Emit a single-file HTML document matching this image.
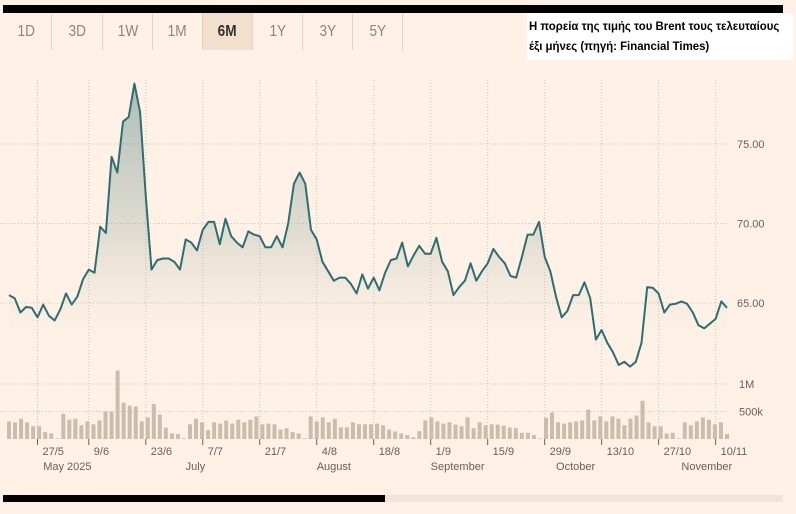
<!DOCTYPE html>
<html><head><meta charset="utf-8">
<style>
html,body{margin:0;padding:0;background:#fff1e5;}
body{width:796px;height:514px;position:relative;overflow:hidden;font-family:"Liberation Sans",sans-serif;}
#topbar{position:absolute;left:3px;top:5px;width:780px;height:8px;background:#000;}
.btn{position:absolute;top:13px;height:37px;width:50px;text-align:center;line-height:37px;font-size:16px;color:#8a8580;border-right:1px solid #e0d4c8;box-sizing:border-box;}
.btn span{display:inline-block;transform:scaleX(0.85);}
.btn.active{background:#f2dfce;color:#33302e;font-weight:bold;}
#title{position:absolute;left:527px;top:13px;width:266px;height:47px;background:#fff;}
#title div{position:absolute;left:2px;top:3px;font-weight:bold;font-size:12px;line-height:20px;color:#000;white-space:nowrap;transform:scaleX(0.95);transform-origin:0 0;}
#scroll-track{position:absolute;left:385px;top:495px;width:398px;height:7px;background:#f0e3d7;}
#scroll-thumb{position:absolute;left:3px;top:495px;width:382px;height:7px;background:#000;}
svg{position:absolute;left:0;top:0;}
</style></head><body>
<div id="topbar"></div>
<div class="btn" style="left:2px"><span>1D</span></div>
<div class="btn" style="left:53px"><span>3D</span></div>
<div class="btn" style="left:103px"><span>1W</span></div>
<div class="btn" style="left:153px"><span>1M</span></div>
<div class="btn active" style="left:203px"><span>6M</span></div>
<div class="btn" style="left:253px"><span>1Y</span></div>
<div class="btn" style="left:303px"><span>3Y</span></div>
<div class="btn" style="left:353px"><span>5Y</span></div>
<div id="title"><div>Η πορεία της τιμής του Brent τους τελευταίους<br>έξι μήνες (πηγή: Financial Times)</div></div>
<svg id="chart" width="796" height="514"></svg>
<div id="scroll-track"></div>
<div id="scroll-thumb"></div>
<script>
const prices = [65.5,65.3,64.4,64.75,64.7,64.1,64.9,64.2,63.9,64.6,65.6,64.9,65.4,66.5,67.1,66.9,69.8,69.4,74.2,73.2,76.4,76.7,78.8,77.0,71.7,67.1,67.7,67.8,67.8,67.6,67.1,69.0,68.8,68.3,69.6,70.1,70.1,68.7,70.3,69.2,68.8,68.5,69.5,69.3,69.2,68.5,68.5,69.2,68.5,70.0,72.5,73.2,72.5,69.6,69.0,67.6,67.0,66.4,66.6,66.6,66.2,65.6,66.8,65.9,66.6,65.8,66.9,67.7,67.8,68.8,67.3,68.0,68.6,68.1,68.1,69.1,67.6,67.0,65.5,66.0,66.4,67.5,66.4,67.0,67.5,68.4,67.9,67.5,66.7,66.6,67.9,69.3,69.3,70.1,67.9,67.0,65.4,64.1,64.5,65.5,65.5,66.3,65.3,62.7,63.3,62.5,61.9,61.1,61.3,61.0,61.3,62.5,66.0,65.95,65.6,64.4,64.9,64.95,65.1,64.95,64.4,63.6,63.4,63.7,64.0,65.1,64.7];
const volumesK = [321,303,369,303,232,232,125,101,12,458,351,369,250,321,268,339,500,500,1244,660,607,589,321,393,637,446,208,101,89,12,268,369,303,160,303,280,333,280,351,303,351,410,268,280,268,172,196,125,101,12,410,321,393,303,369,214,214,303,268,268,268,280,250,172,137,101,71,30,143,339,393,321,280,303,262,232,393,196,303,250,268,262,244,208,196,113,113,71,12,387,482,303,280,303,321,339,535,339,410,321,410,369,250,369,428,696,303,232,232,101,113,12,303,250,321,393,351,268,303,89];
const priceTicks = [75, 70, 65];
const priceTickLabels = ["75.00","70.00","65.00"];
const volTicks = [1000, 500];
const volTickLabels = ["1M","500k"];
const dateTickIdx = [5,14,24,34,44,54,64,74,84,94,104,114,124];
const dateTickLabels = ["27/5","9/6","23/6","7/7","21/7","4/8","18/8","1/9","15/9","29/9","13/10","27/10","10/11"];
const monthIdx = [6,31,54,74,96,118];
const monthLabels = ["May 2025","July","August","September","October","November"];

const NS="http://www.w3.org/2000/svg";
const svg=document.getElementById('chart');
const X0=9, X1=727;
function xDay(i,n){return X0+i*(X1-X0)/(n-1);}
function xP(i){return xDay(i,prices.length);}
function yP(v){return 303-(v-65)*15.9;}
function yV(k){return 439-k*0.055;}
function el(t,a){const e=document.createElementNS(NS,t);for(const k in a)e.setAttribute(k,a[k]);svg.appendChild(e);return e;}

const defs=el('defs',{});
const lg=document.createElementNS(NS,'linearGradient');
lg.setAttribute('id','fillg');lg.setAttribute('x1','0');lg.setAttribute('x2','0');lg.setAttribute('gradientUnits','userSpaceOnUse');
lg.setAttribute('y1','85');lg.setAttribute('y2','365');
[['0','#2e6e72','0.4'],['0.55','#6f8f88','0.2'],['1','#fff1e5','0']].forEach(s=>{const st=document.createElementNS(NS,'stop');st.setAttribute('offset',s[0]);st.setAttribute('stop-color',s[1]);st.setAttribute('stop-opacity',s[2]);lg.appendChild(st);});
defs.appendChild(lg);

dateTickIdx.forEach((d,i)=>{
  const x=xP(d);
  const g=el('line',{x1:x,y1:80,x2:x,y2:439,stroke:'#cfc3b8','stroke-width':1,'stroke-dasharray':'1,2'});
  
  
  const t=el('line',{x1:x,y1:439,x2:x,y2:445,stroke:'#66605c','stroke-width':1});
  
  
  const lb=el('text',{x:x+5,y:455,'font-size':11,fill:'#66605c','font-family':'Liberation Sans, sans-serif'});
  lb.textContent=dateTickLabels[i];
  
  
});
monthIdx.forEach((d,i)=>{
  const lb=el('text',{x:xP(d),y:470,'font-size':11,fill:'#66605c','font-family':'Liberation Sans, sans-serif'});
  lb.textContent=monthLabels[i];
  
  
});
priceTicks.forEach((v,i)=>{
  const g=el('line',{x1:0,y1:yP(v),x2:728,y2:yP(v),stroke:'#cfc3b8','stroke-width':1,'stroke-dasharray':'1,2'});
  
  
  const lb=el('text',{x:737,y:yP(v)+4,'font-size':11,fill:'#66605c','font-family':'Liberation Sans, sans-serif'});
  lb.textContent=priceTickLabels[i];
  
  
});
volTicks.forEach((v,i)=>{
  const g=el('line',{x1:0,y1:yV(v),x2:728,y2:yV(v),stroke:'#cfc3b8','stroke-width':1,'stroke-dasharray':'1,2'});
  
  
  const lb=el('text',{x:739,y:yV(v)+4,'font-size':11,fill:'#66605c','font-family':'Liberation Sans, sans-serif'});
  lb.textContent=volTickLabels[i];
  
  
});
volumesK.forEach((v,i)=>{
  const x=xDay(i,volumesK.length);
  const y=yV(v);
  const b=el('rect',{x:x-2,y:y,width:4,height:439-y,fill:'#cbbdac'});
  
  
});
let d='';
prices.forEach((v,i)=>{d+=(i?'L':'M')+xP(i).toFixed(1)+','+yP(v).toFixed(1);});
const area=el('path',{d:d+'L'+xP(prices.length-1)+',365L'+xP(0)+',365Z',fill:'url(#fillg)'});


const line=el('path',{d:d,fill:'none',stroke:'#2d6e73','stroke-width':2,'stroke-linejoin':'round'});


</script>
</body></html>
